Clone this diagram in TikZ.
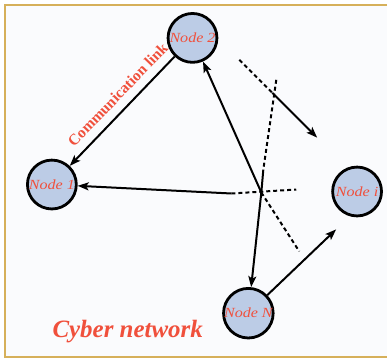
\documentclass[tikz,border=0pt]{standalone}
\usepackage{fontspec}
\usepackage{graphicx}
\setmainfont{Liberation Serif}
\usetikzlibrary{arrows.meta}
\definecolor{nodefill}{RGB}{188,204,230}
\definecolor{labred}{RGB}{240,80,60}
\definecolor{framegold}{RGB}{214,176,90}
\definecolor{bgcol}{RGB}{250,251,253}
\begin{document}
\begin{tikzpicture}[x=1pt,y=-1pt,
  netnode/.style={circle,draw=black,line width=2.8pt,fill=nodefill,minimum size=49pt,inner sep=0pt,
    font=\itshape\fontsize{14}{14}\selectfont,text=labred},
  link/.style={line width=2pt,-{Stealth[length=11pt,width=8pt,inset=2.5pt]}},
  plainlink/.style={line width=2pt},
  dashlink/.style={line width=2pt,dash pattern=on 4pt off 3pt},
  redlabel/.style={text=labred,inner sep=0pt}]
\fill[white] (0,0) rectangle (388,362);
\fill[bgcol] (5,5.5) rectangle (388,358);
\draw[framegold,line width=2pt] (388,5.5) -- (5,5.5) -- (5,358) -- (388,358);
\useasboundingbox (0,0) rectangle (388,362);

\node[netnode] (n2) at (193,38) {\scalebox{1.15}[1]{Node 2}};
\node[netnode] (n1) at (52,185) {\scalebox{1.15}[1]{Node 1}};
\node[netnode] (ni) at (358,192) {\scalebox{1.15}[1]{Node i}};
\node[netnode] (nN) at (249,314) {\scalebox{1.15}[1]{Node N}};

\coordinate (hub) at (262,193);
\coordinate (hW) at (232,194);
\coordinate (hE) at (297,190);
\coordinate (vT) at (277,80);
\coordinate (vS) at (264,170);
\coordinate (dE) at (300,252);
\coordinate (tA) at (240,60);
\coordinate (tB) at (273,93);
\coordinate (tC) at (318,138);
\coordinate (nArr) at (337,230);

\draw[link] (n2) -- (n1);
\node[redlabel,rotate=46,font=\bfseries\fontsize{15.5}{15.5}\selectfont] (cl) at (118,95) {Communication link};

\draw[link] (hub) -- (n2);
\draw[dashlink] (hW) -- (hE);
\draw[link] (hW) -- (n1);
\draw[dashlink] (vT) -- (vS);
\draw[plainlink] (vS) -- (hub);
\draw[link] (hub) -- (nN);
\draw[dashlink] (hub) -- (dE);
\draw[dashlink] (tA) -- (tB);
\draw[link] (tB) -- (tC);
\draw[link] (nN) -- (nArr);

\node[redlabel,font=\bfseries\itshape\fontsize{25}{25}\selectfont] (title) at (128,332) {Cyber network};
\end{tikzpicture}
\end{document}
